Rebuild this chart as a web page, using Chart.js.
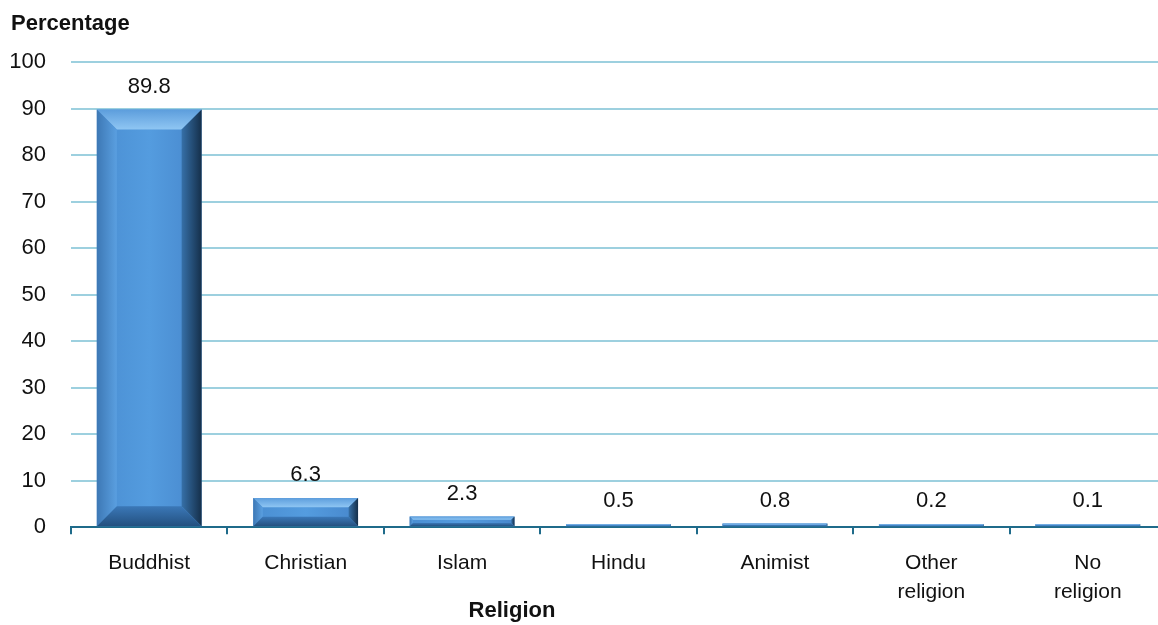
<!DOCTYPE html>
<html>
<head>
<meta charset="utf-8">
<script src="https://cdn.jsdelivr.net/npm/chart.js@4/dist/chart.umd.min.js"></script>
<style>
  html, body { margin: 0; padding: 0; background: #fff; overflow: hidden; }
  #wrap { position: relative; width: 1170px; height: 625px; }
</style>
</head>
<body>
<div id="wrap"><canvas id="c"></canvas></div>
<script>
const categories = ['Buddhist', 'Christian', 'Islam', 'Hindu', 'Animist', ['Other', 'religion'], ['No', 'religion']];
const percentages = [89.8, 6.3, 2.3, 0.5, 0.8, 0.2, 0.1];
const yTicks = { min: 0, max: 100, step: 10 };
const yAxisTitle = 'Percentage';
const xAxisTitle = 'Religion';

const TICK_FONT = "'Liberation Sans', Arial, sans-serif";
const BOLD_FONT = "'Liberation Sans', Arial, sans-serif";

const bevelPlugin = {
  id: 'bevel',
  afterDatasetsDraw(chart) {
    const ctx = chart.ctx;
    const meta = chart.getDatasetMeta(0);
    meta.data.forEach(el => {
      const l = el.x - el.width / 2, r = el.x + el.width / 2;
      const t = Math.min(el.y, el.base), bo = Math.max(el.y, el.base);
      const h = bo - t;
      const b = Math.min(20, h / 3, el.width / 3);
      ctx.save();
      let g = ctx.createLinearGradient(l, 0, r, 0);
      g.addColorStop(0, '#4a8ed2');
      g.addColorStop(0.5, '#549cdf');
      g.addColorStop(1, '#4787cc');
      ctx.fillStyle = g;
      ctx.fillRect(l + b, t + b, r - l - 2 * b, h - 2 * b);
      g = ctx.createLinearGradient(0, t, 0, t + b);
      g.addColorStop(0, '#5c9ddc');
      g.addColorStop(1, '#8fc6f3');
      ctx.fillStyle = g;
      ctx.beginPath();
      ctx.moveTo(l, t); ctx.lineTo(r, t); ctx.lineTo(r - b, t + b); ctx.lineTo(l + b, t + b); ctx.closePath(); ctx.fill();
      g = ctx.createLinearGradient(l, 0, l + b, 0);
      g.addColorStop(0, '#3d78b5');
      g.addColorStop(1, '#5a9fe0');
      ctx.fillStyle = g;
      ctx.beginPath();
      ctx.moveTo(l, t); ctx.lineTo(l + b, t + b); ctx.lineTo(l + b, bo - b); ctx.lineTo(l, bo); ctx.closePath(); ctx.fill();
      g = ctx.createLinearGradient(r, 0, r - b, 0);
      g.addColorStop(0, '#152f4a');
      g.addColorStop(1, '#3670a8');
      ctx.fillStyle = g;
      ctx.beginPath();
      ctx.moveTo(r, t); ctx.lineTo(r - b, t + b); ctx.lineTo(r - b, bo - b); ctx.lineTo(r, bo); ctx.closePath(); ctx.fill();
      g = ctx.createLinearGradient(0, bo, 0, bo - b);
      g.addColorStop(0, '#23507f');
      g.addColorStop(1, '#3b78b8');
      ctx.fillStyle = g;
      ctx.beginPath();
      ctx.moveTo(l, bo); ctx.lineTo(r, bo); ctx.lineTo(r - b, bo - b); ctx.lineTo(l + b, bo - b); ctx.closePath(); ctx.fill();
      ctx.restore();
    });
  }
};

const labelPlugin = {
  id: 'valueLabels',
  afterDatasetsDraw(chart) {
    const ctx = chart.ctx;
    const meta = chart.getDatasetMeta(0);
    ctx.save();
    ctx.font = "22px " + TICK_FONT;
    ctx.fillStyle = '#111';
    ctx.textAlign = 'center';
    ctx.textBaseline = 'bottom';
    meta.data.forEach((el, i) => {
      ctx.fillText(percentages[i].toFixed(1), el.x, el.y - 12);
    });
    ctx.restore();
  }
};

const titlesPlugin = {
  id: 'axisTitles',
  afterDraw(chart) {
    const ctx = chart.ctx;
    ctx.save();
    ctx.font = "bold 22px " + BOLD_FONT;
    ctx.fillStyle = '#111';
    ctx.textBaseline = 'middle';
    ctx.textAlign = 'left';
    ctx.fillText(yAxisTitle, 11, 24);
    ctx.textAlign = 'center';
    ctx.fillText(xAxisTitle, 512, 611);
    ctx.restore();
  }
};

new Chart(document.getElementById('c'), {
  type: 'bar',
  data: {
    labels: categories,
    datasets: [{
      data: percentages,
      backgroundColor: '#4e93d6',
      borderWidth: 0,
      minBarLength: 3,
      categoryPercentage: 1.0,
      barPercentage: 0.67
    }]
  },
  options: {
    responsive: true,
    maintainAspectRatio: false,
    animation: false,
    layout: { padding: { top: 62, left: 11, right: 4, bottom: 4 } },
    plugins: { legend: { display: false }, tooltip: { enabled: false }, title: { display: false } },
    scales: {
      x: {
        grid: { offset: true, drawOnChartArea: false, color: '#1f6b8a', lineWidth: 2, tickLength: 7 },
        border: { color: '#1f6b8a', width: 2 },
        ticks: { color: '#111', font: { family: TICK_FONT, size: 21, lineHeight: 1.4 }, padding: 14, maxRotation: 0, autoSkip: false }
      },
      y: {
        min: yTicks.min, max: yTicks.max,
        afterFit(scale) { scale.width = 60; },
        grid: { color: '#9dd0df', lineWidth: 2, drawTicks: false },
        border: { display: false },
        ticks: { stepSize: yTicks.step, color: '#111', font: { family: TICK_FONT, size: 22 }, padding: 25 }
      }
    }
  },
  plugins: [bevelPlugin, labelPlugin, titlesPlugin]
});
</script>
</body>
</html>
